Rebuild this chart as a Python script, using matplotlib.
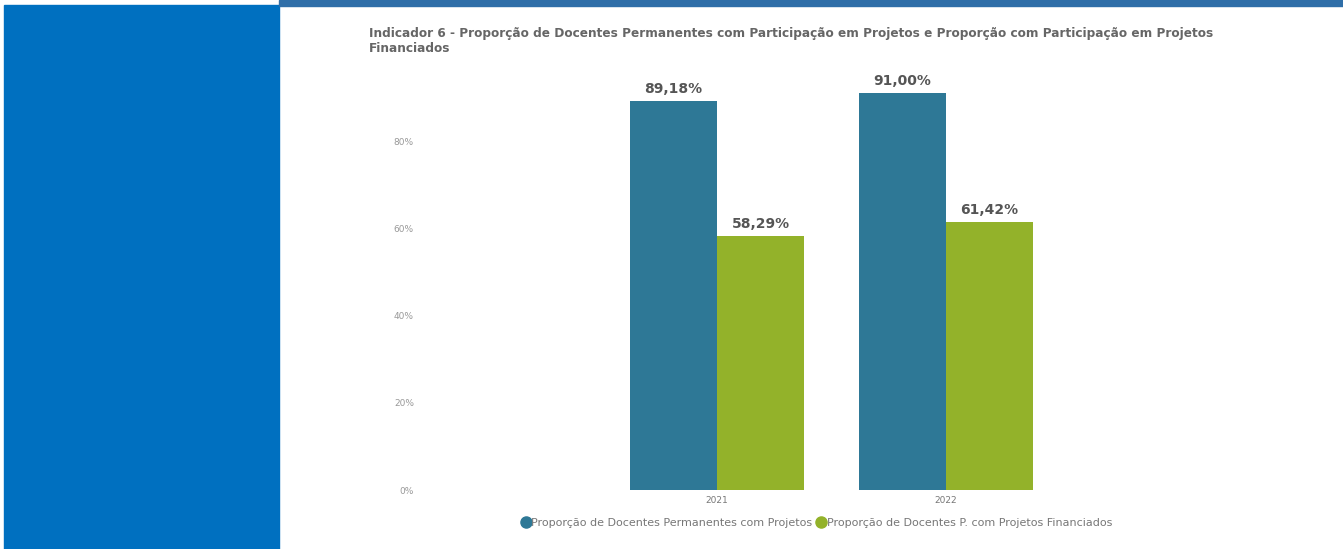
import numpy as np
import matplotlib.pyplot as plt
from matplotlib.patches import Rectangle
from matplotlib.lines import Line2D

anos = ["2021", "2022"]
com_projetos = [89.18, 91.00]
com_financiados = [58.29, 61.42]
series_nomes = ["Proporção de Docentes Permanentes com Projetos",
                "Proporção de Docentes P. com Projetos Financiados"]
yticks = [0, 20, 40, 60, 80]
titulo = ["Indicador 6 - Proporção de Docentes Permanentes com Participação em Projetos e Proporção com Participação em Projetos",
          "Financiados"]

cor_azul = "#2e7896"
cor_verde = "#93b22a"
cor_texto = "#555555"

W, H = 1343, 549
fig = plt.figure(figsize=(W / 100, H / 100), dpi=100)
fig.patch.set_facecolor("white")


def px(x0, y0, x1, y1):
    # pixel box (top-left origin) -> figure fraction rect
    return [x0 / W, 1 - y1 / H, (x1 - x0) / W, (y1 - y0) / H]


# side panel and top strip of the page
l, b, w, h = px(4, 5, 279, 549)
fig.patches.append(Rectangle((l, b), w, h, transform=fig.transFigure,
                             color="#0070c0", zorder=0))
l, b, w, h = px(279, 0, W, 6)
fig.patches.append(Rectangle((l, b), w, h, transform=fig.transFigure,
                             color="#2f6ea8", zorder=0))

ax = fig.add_axes(px(425, 54, 1238, 490))
x = np.arange(len(anos))
largura = 0.38
b1 = ax.bar(x - largura / 2, com_projetos, largura, color=cor_azul)
b2 = ax.bar(x + largura / 2, com_financiados, largura, color=cor_verde)

for barras, vals in ((b1, com_projetos), (b2, com_financiados)):
    for r, v in zip(barras, vals):
        ax.text(r.get_x() + r.get_width() / 2, v + 1.2,
                f"{v:.2f}%".replace(".", ","), ha="center", va="bottom",
                fontsize=10, fontweight="bold", color=cor_texto)

ax.set_xlim(-1.275, 2.275)
ax.set_ylim(0, 100)
ax.set_xticks(x)
ax.set_xticklabels(anos, fontsize=6.5, color="#777777")
ax.set_yticks(yticks)
ax.set_yticklabels([f"{t}%" for t in yticks], fontsize=6.5, color="#999999")
ax.tick_params(length=0, pad=8)
ax.tick_params(axis="x", pad=4)
for s in ax.spines.values():
    s.set_visible(False)

for i, linha in enumerate(titulo):
    fig.text(369 / W, 1 - (33 + 15 * i) / H, linha, fontsize=8.7,
             fontweight="bold", color="#666666", va="center")

handles = [Line2D([], [], marker="o", ls="", color=c, markersize=8)
           for c in (cor_azul, cor_verde)]
fig.legend(handles, series_nomes, loc="center", bbox_to_anchor=(816 / W, 1 - 523 / H),
           ncol=2, frameon=False, fontsize=8, labelcolor="#777777",
           handletextpad=0.0, columnspacing=0.3, handlelength=1.0)

fig.savefig("out.png", dpi=100)
